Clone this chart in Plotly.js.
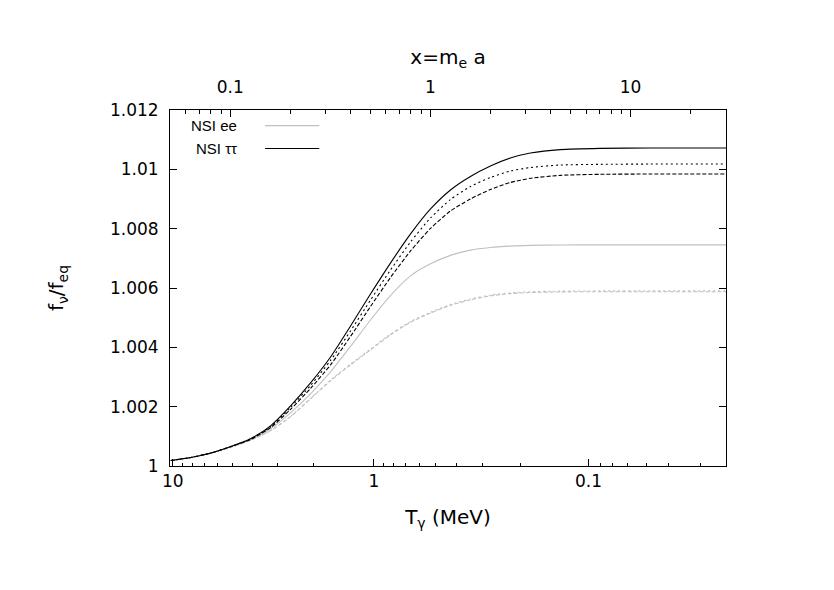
<!DOCTYPE html>
<html>
<head>
<meta charset="utf-8">
<script src="https://cdn.plot.ly/plotly-3.0.1.min.js"></script>
<style>
  html, body { margin: 0; padding: 0; background: #fff; }
  #chart { width: 834px; height: 590px; }
</style>
</head>
<body>
<div id="chart"></div>
<script>
// --- DATA ---
// abscissa of every curve: x = m_e a
const xMeA = [0.0505, 0.0636, 0.0801, 0.1007, 0.1268, 0.1595, 0.2007, 0.2525, 0.3177, 0.3997, 0.503, 0.6328,
              0.7962, 1.0016, 1.2604, 1.5856, 1.9953, 2.5101, 3.1587, 4.458, 7.058, 12.53, 30.0];

// NSI ee (grey)
const eeSolid  = [1.000185, 1.000286, 1.000437, 1.000646, 1.000892, 1.001262, 1.001800, 1.002439, 1.003180, 1.004038, 1.004929, 1.005754,
                  1.006410, 1.006814, 1.007100, 1.007278, 1.007365, 1.007412, 1.007436, 1.007450, 1.007453, 1.007453, 1.007453];
const eeDotted = [1.000185, 1.000286, 1.000434, 1.000629, 1.000875, 1.001201, 1.001676, 1.002288, 1.002900, 1.003439, 1.003947, 1.004452,
                  1.004872, 1.005182, 1.005444, 1.005629, 1.005764, 1.005838, 1.005875, 1.005895, 1.005902, 1.005902, 1.005902];
const eeDashed = [1.000185, 1.000286, 1.000434, 1.000629, 1.000875, 1.001194, 1.001666, 1.002271, 1.002877, 1.003415, 1.003920, 1.004425,
                  1.004845, 1.005155, 1.005417, 1.005602, 1.005737, 1.005811, 1.005848, 1.005868, 1.005875, 1.005875, 1.005875];

// NSI tau tau (black)
const ttSolid  = [1.000185, 1.000286, 1.000437, 1.000656, 1.000925, 1.001363, 1.002036, 1.002810, 1.003684, 1.004727, 1.005804, 1.006847,
                  1.007823, 1.008664, 1.009304, 1.009758, 1.010111, 1.010380, 1.010548, 1.010666, 1.010707, 1.010717, 1.010717];
const ttDotted = [1.000185, 1.000286, 1.000437, 1.000656, 1.000915, 1.001336, 1.001985, 1.002725, 1.003567, 1.004559, 1.005602, 1.006612,
                  1.007554, 1.008361, 1.008984, 1.009421, 1.009724, 1.009943, 1.010061, 1.010145, 1.010168, 1.010178, 1.010178];
const ttDashed = [1.000185, 1.000286, 1.000437, 1.000653, 1.000898, 1.001302, 1.001918, 1.002624, 1.003415, 1.004374, 1.005384, 1.006359,
                  1.007251, 1.008008, 1.008597, 1.009001, 1.009320, 1.009556, 1.009697, 1.009798, 1.009832, 1.009842, 1.009842];

// left axis
const yTickVals = [1, 1.002, 1.004, 1.006, 1.008, 1.01, 1.012];
const yTickText = ['1', '1.002', '1.004', '1.006', '1.008', '1.01', '1.012'];

// bottom axis: T_gamma labels, placed where they fall in x = m_e a
const tMajorText = ['10', '1', '0.1'];
const tMajorAt   = [0.0516, 0.5224, 6.17];
const tMinorAt   = [0.0578, 0.0649, 0.0742, 0.0865, 0.1027, 0.1293, 0.1722, 0.2604,
                    0.5817, 0.6573, 0.7518, 0.8828, 1.061, 1.3455, 1.8143, 2.8164,
                    7.058, 8.128, 9.70, 11.97, 15.46, 22.26];

// top axis: x = m_e a
const topTickVals = [0.1, 1, 10];
const topTickText = ['0.1', '1', '10'];
const topMinorAt  = [0.06, 0.07, 0.08, 0.09, 0.2, 0.3, 0.4, 0.5, 0.6, 0.7, 0.8, 0.9,
                     2, 3, 4, 5, 6, 7, 8, 9, 20];

const legendNames = ['NSI ee', 'NSI \u03c4\u03c4'];

// --- STYLE ---
const GREY = '#c0c0c0';
const BLACK = '#000000';
const FONT = 'DejaVu Sans, sans-serif';
const KEY_FONT = 'Liberation Sans, Arial, sans-serif';
const xRange = [Math.log10(0.05), Math.log10(30)];

function curve(y, color, dash) {
    return {
        x: xMeA, y: y, type: 'scatter', mode: 'lines',
        line: { color: color, width: 1.1, dash: dash, shape: 'spline', smoothing: 0.6 },
        showlegend: false, hoverinfo: 'skip'
    };
}

const data = [
    curve(eeDotted, GREY, '2px,3px'),
    curve(eeDashed, GREY, '4px,2px'),
    curve(eeSolid, GREY, 'solid'),
    curve(ttDotted, BLACK, '2px,3px'),
    curve(ttDashed, BLACK, '4px,2px'),
    curve(ttSolid, BLACK, 'solid'),
    // empty trace so the top x = m_e a axis gets drawn
    { x: [], y: [], xaxis: 'x2', yaxis: 'y', type: 'scatter', mode: 'lines', showlegend: false, hoverinfo: 'skip' }
];

// gnuplot-like key: text on the left, line sample on the right
const keyY = [0.956, 0.892];
const keyColors = [GREY, BLACK];
const annotations = legendNames.map((name, i) => ({
    xref: 'paper', yref: 'paper', x: 0.124, y: keyY[i],
    xanchor: 'right', yanchor: 'middle', showarrow: false,
    text: name, font: { family: KEY_FONT, size: 15, color: '#000' }
}));
const shapes = legendNames.map((name, i) => ({
    type: 'line', xref: 'paper', yref: 'paper',
    x0: 0.171, x1: 0.2685, y0: keyY[i], y1: keyY[i],
    line: { color: keyColors[i], width: 1.1 }
}));

const layout = {
    width: 834, height: 590,
    margin: { l: 170, r: 108, t: 110, b: 124 },
    paper_bgcolor: '#ffffff', plot_bgcolor: '#ffffff',
    font: { family: FONT, size: 17, color: '#000' },
    showlegend: false,
    xaxis: {
        type: 'log', range: xRange,
        tickmode: 'array', tickvals: tMajorAt, ticktext: tMajorText,
        ticks: 'inside', ticklen: 7, tickcolor: '#000', tickwidth: 1,
        minor: { tickmode: 'array', tickvals: tMinorAt, ticks: 'inside', ticklen: 3.5, tickcolor: '#000', showgrid: false },
        showgrid: false, zeroline: false,
        showline: true, linecolor: '#000', linewidth: 1,
        title: { text: 'T<sub>\u03b3</sub> (MeV)', standoff: 19 }
    },
    xaxis2: {
        type: 'log', range: xRange, overlaying: 'x', side: 'top', anchor: 'y',
        tickmode: 'array', tickvals: topTickVals, ticktext: topTickText,
        ticks: 'inside', ticklen: 7, tickcolor: '#000', tickwidth: 1,
        minor: { tickmode: 'array', tickvals: topMinorAt, ticks: 'inside', ticklen: 3.5, tickcolor: '#000', showgrid: false },
        showgrid: false, zeroline: false,
        showline: true, linecolor: '#000', linewidth: 1,
        ticklabelstandoff: 9,
        title: { text: 'x=m<sub>e</sub> a', standoff: 7 }
    },
    yaxis: {
        range: [1, 1.012],
        tickmode: 'array', tickvals: yTickVals, ticktext: yTickText,
        ticks: 'inside', ticklen: 7, tickcolor: '#000', tickwidth: 1,
        ticklabelstandoff: 7,
        mirror: 'ticks', showgrid: false, zeroline: false,
        showline: true, linecolor: '#000', linewidth: 1,
        title: { text: 'f<sub>\u03bd</sub>/f<sub>eq</sub>', standoff: 40 }
    },
    annotations: annotations,
    shapes: shapes
};

Plotly.newPlot('chart', data, layout, { displayModeBar: false, staticPlot: true });
</script>
</body>
</html>
